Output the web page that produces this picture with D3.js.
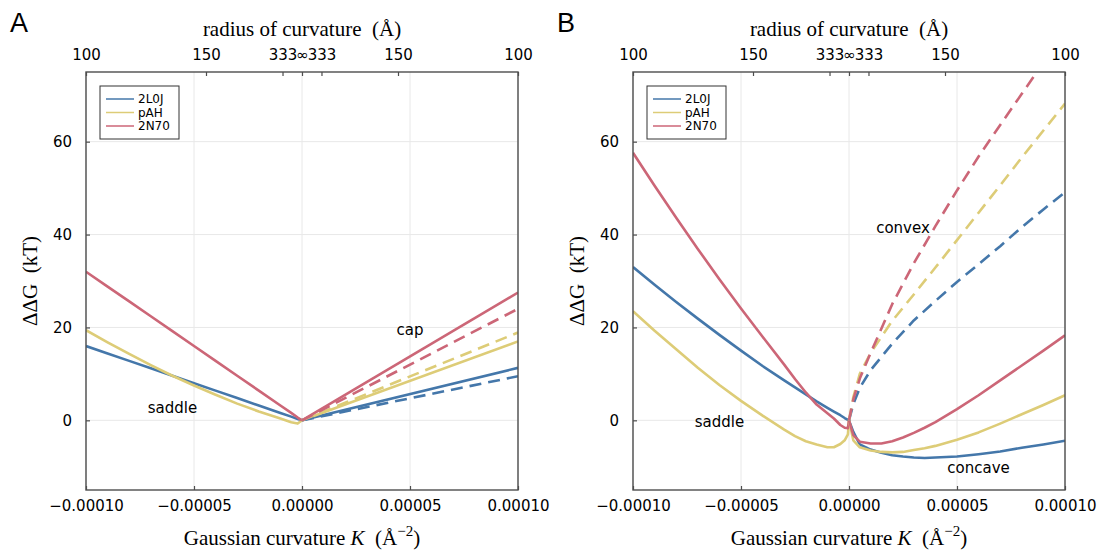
<!DOCTYPE html>
<html>
<head>
<meta charset="utf-8">
<script src="https://cdn.jsdelivr.net/npm/d3@7"></script>
<style>
  body { margin: 0; background: #fff; }
  .tick-label { font-family: "DejaVu Sans", sans-serif; font-size: 15px; fill: #000; }
  .math { font-family: "Liberation Serif", "DejaVu Serif", serif; font-size: 21px; fill: #000; }
  .note { font-family: "DejaVu Sans", sans-serif; font-size: 15px; fill: #000; }
  .leg { font-family: "DejaVu Sans", sans-serif; font-size: 12px; fill: #000; }
</style>
</head>
<body>
<div id="chart"></div>
<script>

// ---- data (K in 1/A^2, values in kT) ----
var names = ["2L0J", "pAH", "2N70"];
var colors = ["#4477AA", "#DDCC77", "#CC6677"];

var xTicks = [-1e-4, -5e-5, 0, 5e-5, 1e-4];
var xTickLabels = ["\u22120.00010", "\u22120.00005", "0.00000", "0.00005", "0.00010"];
var yTicks = [0, 20, 40, 60];
var radiusTicks = [-1e-4, -1 / (150 * 150), -1 / (333 * 333), 0, 1 / (333 * 333), 1 / (150 * 150), 1e-4];
var radiusLabels = ["100", "150", "333", "\u221e", "333", "150", "100"];

// panel A
var kA_saddle = [-1e-4, -0.9e-4, -0.8e-4, -0.7e-4, -0.6e-4, -0.5e-4, -0.4e-4, -0.3e-4, -0.2e-4, -0.1e-4, -0.05e-4, -0.02e-4, 0];
var A_2L0J_saddle = [16.0, 14.4, 12.8, 11.2, 9.6, 8.0, 6.4, 4.8, 3.2, 1.6, 0.8, 0.3, 0];
var A_pAH_saddle  = [19.4, 16.8, 14.3, 11.9, 9.6, 7.5, 5.5, 3.6, 1.9, 0.4, -0.4, -0.7, 0];
var A_2N70_saddle = [32.0, 28.8, 25.6, 22.4, 19.2, 16.0, 12.8, 9.6, 6.4, 3.2, 1.6, 0.6, 0];

var kA_cap = [0, 1e-4];
var A_2L0J_cap = [0, 11.3];
var A_pAH_cap  = [0, 17.0];
var A_2N70_cap = [0, 27.5];
var A_2L0J_convex = [0, 9.5];
var A_pAH_convex  = [0, 18.9];
var A_2N70_convex = [0, 24.0];

// panel B
var kB_saddle = [-1e-4, -0.9e-4, -0.8e-4, -0.7e-4, -0.6e-4, -0.5e-4, -0.4e-4, -0.3e-4, -0.25e-4, -0.2e-4, -0.15e-4, -0.1e-4, -0.07e-4, -0.04e-4, -0.02e-4, -0.005e-4, 0];
var B_2L0J_saddle = [33.0, 29.2, 25.5, 21.9, 18.4, 15.0, 11.7, 8.6, 7.1, 5.6, 4.1, 2.7, 1.9, 1.1, 0.5, 0.1, 0];
var B_pAH_saddle  = [23.5, 19.3, 15.3, 11.3, 7.6, 4.2, 1.0, -2.0, -3.4, -4.5, -5.2, -5.8, -5.8, -5.1, -4.3, -3.0, 0];
var B_2N70_saddle = [57.6, 50.5, 43.6, 36.9, 30.4, 24.1, 18.0, 12.0, 8.9, 6.0, 3.4, 1.5, 0.4, -1.0, -1.6, -1.7, 0];

var kB_concave = [0, 0.02e-4, 0.05e-4, 0.1e-4, 0.15e-4, 0.2e-4, 0.25e-4, 0.3e-4, 0.35e-4, 0.4e-4, 0.5e-4, 0.6e-4, 0.7e-4, 0.8e-4, 0.9e-4, 1e-4];
var B_2L0J_concave = [0, -2.5, -5.2, -6.3, -7.0, -7.5, -7.8, -8.0, -8.1, -8.0, -7.8, -7.3, -6.7, -5.9, -5.2, -4.4];
var B_pAH_concave  = [0, -4.3, -5.8, -6.5, -6.8, -6.9, -6.8, -6.4, -6.0, -5.5, -4.2, -2.6, -0.7, 1.3, 3.3, 5.4];
var B_2N70_concave = [0, -3.2, -4.6, -5.0, -5.0, -4.5, -3.7, -2.7, -1.6, -0.4, 2.4, 5.4, 8.6, 11.8, 15.0, 18.3];

var kB_convex = [0, 0.02e-4, 0.05e-4, 0.1e-4, 0.2e-4, 0.3e-4, 0.4e-4, 0.5e-4, 0.6e-4, 0.7e-4, 0.8e-4, 0.9e-4, 1e-4];
var B_2L0J_convex = [0, 3.5, 7.0, 10.8, 16.5, 21.5, 25.7, 29.8, 33.6, 37.5, 41.6, 45.4, 49.1];
var B_pAH_convex  = [0, 5.0, 10.0, 14.5, 21.4, 27.1, 32.9, 38.8, 44.7, 50.6, 56.6, 62.4, 68.2];
var B_2N70_convex = [0, 4.5, 9.0, 14.5, 25.0, 33.8, 41.8, 49.5, 56.8, 63.6, 70.3, 77.0, 83.5];

var panels = [
  { letter: "A", left: 86, segments: [
      [kA_saddle, [A_2L0J_saddle, A_pAH_saddle, A_2N70_saddle], false],
      [kA_cap, [A_2L0J_cap, A_pAH_cap, A_2N70_cap], false],
      [kA_cap, [A_2L0J_convex, A_pAH_convex, A_2N70_convex], true]],
    notes: [["cap", 0.5e-4, 19.5], ["saddle", -0.6e-4, 2.7]] },
  { letter: "B", left: 633, segments: [
      [kB_saddle, [B_2L0J_saddle, B_pAH_saddle, B_2N70_saddle], false],
      [kB_concave, [B_2L0J_concave, B_pAH_concave, B_2N70_concave], false],
      [kB_convex, [B_2L0J_convex, B_pAH_convex, B_2N70_convex], true]],
    notes: [["convex", 0.25e-4, 41.5], ["saddle", -0.6e-4, -0.2], ["concave", 0.6e-4, -10.2]] }
];

var W = 1111, H = 550;
var plotW = 432, plotTop = 72, plotBottom = 490;

var svg = d3.select("#chart").append("svg")
  .attr("width", W)
  .attr("height", H);

svg.append("rect").attr("width", W).attr("height", H).attr("fill", "#fff");

panels.forEach(function(p, pi) {
  var x = d3.scaleLinear().domain([-1e-4, 1e-4]).range([p.left, p.left + plotW]);
  var y = d3.scaleLinear().domain([-15, 75]).range([plotBottom, plotTop]);
  var g = svg.append("g");

  // grid
  g.selectAll("line.gx").data(xTicks).enter().append("line")
    .attr("x1", function(d) { return x(d); }).attr("x2", function(d) { return x(d); })
    .attr("y1", plotTop).attr("y2", plotBottom)
    .attr("stroke", "#e8e8e8").attr("stroke-width", 1);
  g.selectAll("line.gy").data(yTicks).enter().append("line")
    .attr("x1", x.range()[0]).attr("x2", x.range()[1])
    .attr("y1", function(d) { return y(d); }).attr("y2", function(d) { return y(d); })
    .attr("stroke", "#e8e8e8").attr("stroke-width", 1);

  // clip
  var clipId = "clip" + pi;
  g.append("clipPath").attr("id", clipId).append("rect")
    .attr("x", x.range()[0]).attr("y", plotTop)
    .attr("width", plotW).attr("height", plotBottom - plotTop);

  var lines = g.append("g").attr("clip-path", "url(#" + clipId + ")");
  p.segments.forEach(function(seg) {
    var ks = seg[0];
    seg[1].forEach(function(vals, si) {
      var pts = ks.map(function(k, i) { return [k, vals[i]]; });
      lines.append("path")
        .datum(pts)
        .attr("d", d3.line().x(function(d) { return x(d[0]); }).y(function(d) { return y(d[1]); }))
        .attr("fill", "none")
        .attr("stroke", colors[si])
        .attr("stroke-width", 2.6)
        .attr("stroke-linejoin", "round")
        .attr("stroke-dasharray", seg[2] ? "12,7" : null);
    });
  });

  // frame
  g.append("rect")
    .attr("x", x.range()[0]).attr("y", plotTop)
    .attr("width", plotW).attr("height", plotBottom - plotTop)
    .attr("fill", "none").attr("stroke", "#4d4d4d").attr("stroke-width", 1.4);

  // axes with inward ticks
  var xAxis = g.append("g").attr("transform", "translate(0," + plotBottom + ")")
    .call(d3.axisBottom(x).tickValues(xTicks).tickSize(-4).tickPadding(10)
      .tickFormat(function(d, i) { return xTickLabels[i]; }));
  var yAxis = g.append("g").attr("transform", "translate(" + x.range()[0] + ",0)")
    .call(d3.axisLeft(y).tickValues(yTicks).tickSize(-4).tickPadding(14));
  var rAxis = g.append("g").attr("transform", "translate(0," + plotTop + ")")
    .call(d3.axisTop(x).tickValues(radiusTicks).tickSize(-4).tickPadding(12)
      .tickFormat(function(d, i) { return radiusLabels[i]; }));
  [xAxis, yAxis, rAxis].forEach(function(a) {
    a.select(".domain").remove();
    a.selectAll(".tick line").attr("stroke", "#4d4d4d").attr("stroke-width", 1.2);
    a.selectAll(".tick text").attr("class", "tick-label").attr("font-family", null).attr("font-size", null);
  });

  // legend
  var lg = g.append("g").attr("transform", "translate(" + (x.range()[0] + 14) + "," + (plotTop + 14) + ")");
  lg.append("rect").attr("width", 79).attr("height", 53)
    .attr("fill", "#fff").attr("stroke", "#333").attr("stroke-width", 1);
  names.forEach(function(n, i) {
    lg.append("line")
      .attr("x1", 6).attr("x2", 34)
      .attr("y1", 13 + i * 13.5).attr("y2", 13 + i * 13.5)
      .attr("stroke", colors[i]).attr("stroke-width", 1.5);
    lg.append("text").attr("class", "leg")
      .attr("x", 38).attr("y", 13 + i * 13.5).attr("dy", "0.35em").text(n);
  });

  // annotations
  p.notes.forEach(function(n) {
    g.append("text").attr("class", "note")
      .attr("x", x(n[1])).attr("y", y(n[2])).attr("dy", "0.35em")
      .attr("text-anchor", "middle").text(n[0]);
  });

  // titles
  var cx = p.left + plotW / 2;
  g.append("text").attr("class", "math")
    .attr("x", cx).attr("y", 36).attr("text-anchor", "middle")
    .text("radius of curvature\u2002(\u00c5)");

  var xt = g.append("text").attr("class", "math")
    .attr("x", cx).attr("y", 545).attr("text-anchor", "middle");
  xt.append("tspan").text("Gaussian curvature ");
  xt.append("tspan").attr("font-style", "italic").text("K");
  xt.append("tspan").text("\u2002(\u00c5");
  xt.append("tspan").attr("dy", -9).attr("font-size", 15).text("\u22122");
  xt.append("tspan").attr("dy", 9).text(")");

  g.append("text").attr("class", "math")
    .attr("transform", "translate(" + (p.left - 49) + "," + ((plotTop + plotBottom) / 2) + ") rotate(-90)")
    .attr("text-anchor", "middle")
    .text("\u0394\u0394G\u2002(kT)");

  g.append("text")
    .attr("x", p.left - 76).attr("y", 32)
    .attr("font-family", "Liberation Sans, Arial, sans-serif")
    .attr("font-size", 27)
    .text(p.letter);
});

</script>
</body>
</html>
